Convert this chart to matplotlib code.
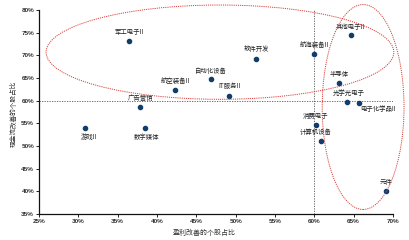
import matplotlib
matplotlib.use("Agg")
import matplotlib.pyplot as plt
from matplotlib.patches import Ellipse
from matplotlib.ticker import FuncFormatter

plt.rcParams['font.family'] = ['Noto Sans CJK SC', 'DejaVu Sans']

# Data
names = ["军工电子II", "航空装备II", "自动化设备", "广告营销", "软件开发", "航海装备II",
         "其他电子II", "IT服务II", "半导体", "光学光电子", "电子化学品II", "消费电子",
         "计算机设备", "元件", "游戏II", "数字媒体"]
profit_pct = [36.5, 42.3, 46.9, 37.9, 52.6, 60.0, 64.6, 49.2, 63.1, 64.1, 65.7, 60.2,
              60.8, 69.1, 30.8, 38.5]
cash_pct = [73.1, 62.4, 64.7, 58.7, 69.3, 70.2, 74.4, 61.1, 63.9, 59.8, 59.5, 54.7,
            51.2, 40.1, 53.9, 53.9]
# label offsets (points)
label_dx = [0, 0, 0, 0, 0, 0, 0, 0, 0, 1.5, 13.5, 0, -3.5, 0, 3.5, 1]
label_dy = [6.5, 6.5, 6, 6.5, 6.5, 7, 6, 7, 6.5, 6.5, -4.5, 6.5, 6.5, 6.5, -6, -6]

xticks = [25, 30, 35, 40, 45, 50, 55, 60, 65, 70]
yticks = [35, 40, 45, 50, 55, 60, 65, 70, 75, 80]

fig = plt.figure(figsize=(4.09, 2.40), dpi=100)
ax = fig.add_axes([39/409, 1-214/240, (393-39)/409, (214-10)/240])

ax.set_xlim(25, 70)
ax.set_ylim(35, 80)

ax.axhline(60, color='#555555', lw=0.6, ls=(0, (1.5, 1.5)))
ax.axvline(60, color='#555555', lw=0.6, ls=(0, (1.5, 1.5)))

ax.scatter(profit_pct, cash_pct, s=9, color='#123d6a', zorder=3)

for n, x, y, dx, dy in zip(names, profit_pct, cash_pct, label_dx, label_dy):
    ax.annotate(n, (x, y), xytext=(dx, dy), textcoords='offset points',
                ha='center', va='center', fontsize=4.6, color='#222222')

ell1 = Ellipse((48.0, 70.7), 44.2, 20.8, fill=False, ec='#d9413a', lw=0.7,
               ls=(0, (1.2, 1.0)), clip_on=False, zorder=4)
ell2 = Ellipse((66.2, 58.6), 10.4, 45.2, fill=False, ec='#d9413a', lw=0.7,
               ls=(0, (1.2, 1.0)), clip_on=False, zorder=4)
ax.add_patch(ell1)
ax.add_patch(ell2)

ax.set_xticks(xticks)
ax.set_yticks(yticks)
fmt = FuncFormatter(lambda v, p: f"{int(v)}%")
ax.xaxis.set_major_formatter(fmt)
ax.yaxis.set_major_formatter(fmt)
for lab in ax.get_xticklabels() + ax.get_yticklabels():
    lab.set_fontsize(4.6)
    lab.set_fontweight('bold')
    lab.set_family(['Liberation Sans', 'DejaVu Sans'])
    lab.set_color('#333333')
ax.tick_params(axis='both', length=2, width=0.6, pad=1.5)

for s in ['top', 'right']:
    ax.spines[s].set_visible(False)
for s in ['left', 'bottom']:
    ax.spines[s].set_linewidth(0.9)
    ax.spines[s].set_color('#111111')

fig.text(204/409, 1-233/240, "盈利改善的个股占比", ha='center', va='center',
         fontsize=5, color='#333333')
fig.text(14/409, 1-114/240, "现金流改善的个股占比", ha='center', va='center',
         rotation=90, fontsize=4.8, color='#333333')

fig.savefig("out.png", dpi=100)
